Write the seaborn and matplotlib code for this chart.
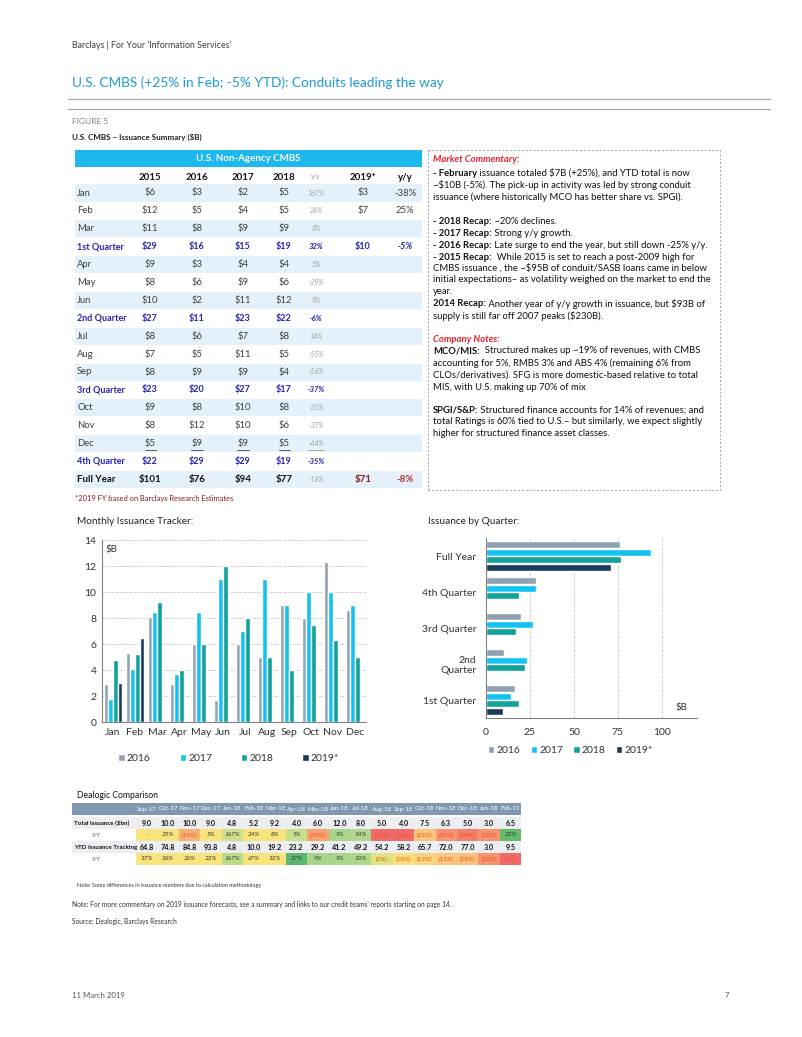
import numpy as np
import pandas as pd
import seaborn as sns
import matplotlib.pyplot as plt
from matplotlib.patches import Rectangle
from matplotlib.lines import Line2D

# ---- data ----
months = ['Jan', 'Feb', 'Mar', 'Apr', 'May', 'Jun', 'Jul', 'Aug', 'Sep', 'Oct', 'Nov', 'Dec']
years = ['2016', '2017', '2018', '2019*']
m2016 = [2.9, 5.3, 8.1, 2.9, 6.0, 1.7, 6.0, 5.0, 9.0, 8.0, 12.3, 8.6]
m2017 = [1.8, 4.1, 8.5, 3.7, 8.5, 11.0, 7.0, 11.0, 9.0, 10.0, 10.0, 9.0]
m2018 = [4.8, 5.2, 9.2, 4.0, 6.0, 12.0, 8.0, 5.0, 4.0, 7.5, 6.3, 5.0]
m2019 = [3.0, 6.5] + [np.nan] * 10

quarters = ['Full Year', '4th Quarter', '3rd Quarter', '2nd\nQuarter', '1st Quarter']
q2016 = [76, 28.5, 20, 10.2, 16.3]
q2017 = [94, 28.5, 27, 23.5, 14.3]
q2018 = [77, 18.8, 17, 22, 19]
q2019 = [71, np.nan, np.nan, np.nan, 9.5]

# summary table
row_labels = ['Jan', 'Feb', 'Mar', '1st Quarter', 'Apr', 'May', 'Jun', '2nd Quarter',
              'Jul', 'Aug', 'Sep', '3rd Quarter', 'Oct', 'Nov', 'Dec', '4th Quarter', 'Full Year']
t2015 = [6, 12, 11, 29, 9, 8, 10, 27, 8, 7, 8, 23, 9, 8, 5, 22, 101]
t2016 = [3, 5, 8, 16, 3, 6, 2, 11, 6, 5, 9, 20, 8, 12, 9, 29, 76]
t2017 = [2, 4, 9, 15, 4, 9, 11, 23, 7, 11, 9, 27, 10, 10, 9, 29, 94]
t2018 = [5, 5, 9, 19, 4, 6, 12, 22, 8, 5, 4, 17, 8, 6, 5, 19, 77]
t_yy18 = [167, 24, 8, 32, 5, -29, 9, -6, 14, -55, -56, -37, -25, -37, -44, -35, -18]
t2019 = {'Jan': 3, 'Feb': 7, '1st Quarter': 10, 'Full Year': 71}
t_yy19 = {'Jan': -38, 'Feb': 25, '1st Quarter': -5, 'Full Year': -8}

# dealogic comparison
deal_months = ['Sep-17', 'Oct-17', 'Nov-17', 'Dec-17', 'Jan-18', 'Feb-18', 'Mar-18', 'Apr-18', 'May-18',
               'Jun-18', 'Jul-18', 'Aug-18', 'Sep-18', 'Oct-18', 'Nov-18', 'Dec-18', 'Jan-18', 'Feb-19']
deal_total = [9.0, 10.0, 10.0, 9.0, 4.8, 5.2, 9.2, 4.0, 6.0, 12.0, 8.0, 5.0, 4.0, 7.5, 6.3, 5.0, 3.0, 6.5]
deal_total_yy = [None, 25, -19, 5, 167, 24, 8, 5, -29, 9, 14, -55, -56, -25, -37, -44, -38, 25]
deal_ytd = [64.8, 74.8, 84.8, 93.8, 4.8, 10.0, 19.2, 23.2, 29.2, 41.2, 49.2, 54.2, 58.2, 65.7, 72.0, 77.0, 3.0, 9.5]
deal_ytd_yy = [37, 36, 26, 23, 167, 67, 32, 27, 9, 9, 10, -3, -10, -12, -15, -18, -38, -5]
total_yy_colors = ['#f9e47c', '#f9e47c', '#f9b276', '#f9e47c', '#cde08a', '#f9e47c', '#f9e47c', '#c6df8a',
                   '#f9a070', '#a8d58a', '#b0d88a', '#f26b6b', '#f26b6b', '#fbc47c', '#f7936f', '#f47e6d',
                   '#f7936f', '#63bb6c']
ytd_yy_colors = ['#f9e47c', '#f9e47c', '#f9e47c', '#f9e47c', '#bddc8a', '#f9e47c', '#f9e47c', '#5cb86f',
                 '#a8d58a', '#a8d58a', '#b0d88a', '#dfe380', '#fae07b', '#fad67b', '#fbc77c', '#fbc17c',
                 '#f7936f', '#f06a6a']

palette = {'2016': '#8fa2b4', '2017': '#12c2f0', '2018': '#12a19b', '2019*': '#1a3b5a'}

sns.set_style('white')
plt.rcParams['font.family'] = ['Lato', 'DejaVu Sans']
plt.rcParams['axes.unicode_minus'] = False

W, H = 802, 1037
fig = plt.figure(figsize=(W / 100, H / 100), dpi=100)
fig.patch.set_facecolor('white')
renderer = fig.canvas.get_renderer()


def txt(x, y, s, size=7, color='#333333', weight='normal', style='normal', ha='left', va='center'):
    return fig.text(x / W, 1 - y / H, s, fontsize=size, color=color, fontweight=weight,
                    fontstyle=style, ha=ha, va=va)


def rich(x, y, parts, size=7):
    for s, kw in parts:
        t = txt(x, y, s, size=size, **kw)
        x += t.get_window_extent(renderer).width


def rect(x0, y0, x1, y1, color):
    fig.patches.append(Rectangle((x0 / W, 1 - y1 / H), (x1 - x0) / W, (y1 - y0) / H,
                                 transform=fig.transFigure, facecolor=color, edgecolor='none'))


def hline(x0, x1, y, color='#a0a0a0', lw=0.8, ls='-'):
    fig.lines.append(Line2D([x0 / W, x1 / W], [1 - y / H, 1 - y / H], transform=fig.transFigure,
                            color=color, lw=lw, ls=ls))


def vline(x, y0, y1, color='#a0a0a0', lw=0.8, ls='-'):
    fig.lines.append(Line2D([x / W, x / W], [1 - y0 / H, 1 - y1 / H], transform=fig.transFigure,
                            color=color, lw=lw, ls=ls))


# ---- page header ----
txt(72, 46, "Barclays | For Your 'Information Services'", size=6.4, color='#404040')
txt(72, 83, 'U.S. CMBS (+25% in Feb; -5% YTD): Conduits leading the way', size=9.8, color='#1a9bd7')
hline(68, 770, 99, color='#a8a8a8', lw=0.9)
hline(68, 770, 109, color='#a8a8a8', lw=0.9)
txt(72, 122, 'FIGURE 5', size=6, color='#808080')
txt(72, 137, 'U.S. CMBS – Issuance Summary ($B)', size=5.8, color='#222222', weight='bold')

# ---- summary table ----
rect(75, 150, 422, 167, '#1cb8ee')
txt(248, 158.5, 'U.S. Non-Agency CMBS', size=7, color='white', weight='bold', ha='center')
cols = [150, 197, 243, 284, 316, 363, 405]
hdr = ['2015', '2016', '2017', '2018', 'y/y', '2019*', 'y/y']
for k, (cx, h) in enumerate(zip(cols, hdr)):
    if k == 4:
        txt(cx, 177, h, size=5, color='#a0a0a0', style='italic', ha='center')
    else:
        txt(cx, 177, h, size=7, color='#111111', weight='bold', ha='center')

shaded = {'Jan', 'Mar', 'Apr', 'Jun', 'Jul', 'Sep', 'Oct', 'Dec', 'Full Year'}
for i, lab in enumerate(row_labels):
    y = 193 + i * 17.9
    if lab in shaded:
        rect(75, y - 8.5, 422, y + 8.5, '#e5f1fa')
    if 'Quarter' in lab:
        c, wgt, sz = '#2323b4', 'bold', 6.5
    elif lab == 'Full Year':
        c, wgt, sz = '#111111', 'bold', 7
    else:
        c, wgt, sz = '#404040', 'normal', 6.8
    txt(77, y, lab, size=sz, color=c, weight=wgt)
    for cx, series in zip(cols[:4], [t2015, t2016, t2017, t2018]):
        t = txt(cx, y, f'${series[i]}', size=sz, color=c, weight=wgt, ha='center')
        if lab == 'Dec':
            bb = t.get_window_extent(renderer)
            hline(bb.x0, bb.x1, y + 6, color='#404040', lw=0.6)
    yy = t_yy18[i]
    if 'Quarter' in lab:
        txt(cols[4], y, f'{yy}%', size=5.5, color=c, weight='bold', style='italic', ha='center')
    else:
        t = txt(cols[4], y, f'{yy}%', size=5, color='#a0a0a0', style='italic', ha='center')
        if lab == 'Dec':
            bb = t.get_window_extent(renderer)
            hline(bb.x0, bb.x1, y + 6, color='#a0a0a0', lw=0.6)
    if lab in t2019:
        if lab == 'Full Year':
            txt(cols[5], y, f'${t2019[lab]}', size=7, color='#8b1a1a', weight='bold', ha='center')
            txt(cols[6], y, f'{t_yy19[lab]}%', size=7, color='#c0282d', weight='bold', ha='center')
        elif 'Quarter' in lab:
            txt(cols[5], y, f'${t2019[lab]}', size=sz, color=c, weight='bold', ha='center')
            txt(cols[6], y, f'{t_yy19[lab]}%', size=sz, color=c, weight='bold', style='italic', ha='center')
        else:
            txt(cols[5], y, f'${t2019[lab]}', size=sz, color=c, ha='center')
            txt(cols[6], y, f'{t_yy19[lab]}%', size=sz, color=c, ha='center')
txt(75, 498, '*2019 FY based on Barclays Research Estimates', size=5.4, color='#8b1a1a')

# ---- commentary box ----
dash = (0, (2, 2))
hline(428, 720, 150, color='#a0a0a0', lw=0.7, ls=dash)
hline(428, 720, 490, color='#a0a0a0', lw=0.7, ls=dash)
vline(428, 150, 490, color='#a0a0a0', lw=0.7, ls=dash)
vline(720, 150, 490, color='#a0a0a0', lw=0.7, ls=dash)

B = {'weight': 'bold', 'color': '#111111'}
R = {'color': '#111111'}
red = {'weight': 'bold', 'style': 'italic', 'color': '#e8202a'}
lines = [
    (160, [('Market Commentary:', red)]),
    (173, [('- February', B), (' issuance totaled $7B (+25%), and YTD total is now', R)]),
    (185, [('~$10B (-5%). The pick-up in activity was led by strong conduit', R)]),
    (197, [('issuance (where historically MCO has better share vs. SPGI).', R)]),
    (221, [('- 2018 Recap:', B), (' ~20% declines.', R)]),
    (233, [('- 2017 Recap:', B), (' Strong y/y growth.', R)]),
    (245, [('- 2016 Recap:', B), (' Late surge to end the year, but still down -25% y/y.', R)]),
    (257, [('- 2015 Recap:', B), ('  While 2015 is set to reach a post-2009 high for', R)]),
    (268, [('CMBS issuance , the ~$95B of conduit/SASB loans came in below', R)]),
    (280, [('initial expectations– as volatility weighed on the market to end the', R)]),
    (292, [('year.', R)]),
    (304, [('2014 Recap:', B), (' Another year of y/y growth in issuance, but $93B of', R)]),
    (316, [('supply is still far off 2007 peaks ($230B).', R)]),
    (339, [('Company Notes:', red)]),
    (351, [('MCO/MIS:', B), ('  Structured makes up ~19% of revenues, with CMBS', R)]),
    (363, [('accounting for 5%, RMBS 3% and ABS 4% (remaining 6% from', R)]),
    (375, [('CLOs/derivatives). SFG is more domestic-based relative to total', R)]),
    (387, [('MIS, with U.S. making up 70% of mix', R)]),
    (410, [('SPGI/S&P:', B), (' Structured finance accounts for 14% of revenues; and', R)]),
    (422, [('total Ratings is 60% tied to U.S.– but similarly, we expect slightly', R)]),
    (434, [('higher for structured finance asset classes.', R)]),
]
for y, parts in lines:
    rich(433, y, parts, size=6.8)

# ---- monthly issuance chart ----
txt(77, 521, 'Monthly Issuance Tracker:', size=7.2, color='#222222')
monthly = pd.DataFrame({'month': months * 4,
                        'year': np.repeat(years, 12),
                        'value': m2016 + m2017 + m2018 + m2019})
ax1 = fig.add_axes([102 / W, 1 - 722 / H, 264 / W, 182 / H])
sns.barplot(data=monthly, x='month', y='value', hue='year', palette=palette, width=0.9,
            gap=0.18, ax=ax1, saturation=1)
ax1.set_ylim(0, 14)
ax1.set_yticks(range(0, 15, 2))
ax1.yaxis.grid(True, linestyle='--', color='#c8c8c8', lw=0.6)
ax1.set_axisbelow(True)
ax1.set_xlabel('')
ax1.set_ylabel('')
for s in ['top', 'right']:
    ax1.spines[s].set_visible(False)
for s in ['left', 'bottom']:
    ax1.spines[s].set_color('#808080')
    ax1.spines[s].set_linewidth(0.8)
ax1.tick_params(labelsize=7.5, colors='#333333', length=0, pad=4)
ax1.text(0.015, 0.95, '$B', transform=ax1.transAxes, fontsize=7, color='#333333', va='center')
ax1.legend(loc='center', bbox_to_anchor=(0.48, -0.2), ncol=4, frameon=False, fontsize=7.5,
           handlelength=0.6, handleheight=0.6, handletextpad=0.2, columnspacing=2.8,
           labelcolor='#333333')

# ---- quarterly chart ----
txt(428, 521, 'Issuance by Quarter:', size=7.2, color='#222222')
quarterly = pd.DataFrame({'quarter': quarters * 4,
                          'year': np.repeat(years, 5),
                          'value': q2016 + q2017 + q2018 + q2019})
ax2 = fig.add_axes([486 / W, 1 - 718 / H, 211 / W, 180 / H])
sns.barplot(data=quarterly, y='quarter', x='value', hue='year', palette=palette, orient='h',
            width=0.84, gap=0.06, ax=ax2, saturation=1)
ax2.set_xlim(0, 120)
ax2.set_xticks([0, 25, 50, 75, 100])
ax2.xaxis.grid(True, linestyle='--', color='#c8c8c8', lw=0.6)
ax2.set_axisbelow(True)
ax2.set_xlabel('')
ax2.set_ylabel('')
for s in ['top', 'right']:
    ax2.spines[s].set_visible(False)
for s in ['left', 'bottom']:
    ax2.spines[s].set_color('#808080')
    ax2.spines[s].set_linewidth(0.8)
ax2.tick_params(labelsize=7.5, colors='#333333', length=0, pad=7)
ax2.set_yticks([0.5, 1.5, 2.5, 3.5], minor=True)
ax2.tick_params(axis='y', which='minor', length=4, color='#808080')
ax2.text(0.9, 0.06, '$B', transform=ax2.transAxes, fontsize=7, color='#333333', va='center')
ax2.legend(loc='center', bbox_to_anchor=(0.40, -0.18), ncol=4, frameon=False, fontsize=7.5,
           handlelength=0.6, handleheight=0.6, handletextpad=0.2, columnspacing=1.0,
           labelcolor='#333333')

# ---- dealogic comparison ----
txt(77, 795, 'Dealogic Comparison', size=6.2, color='#111111')
x_left, x_lab, cw = 72, 136, 21.4
x_right = x_lab + cw * 18
rect(x_left, 803, x_right, 815, '#8098b0')
for j, m in enumerate(deal_months):
    txt(x_lab + cw * (j + 0.5), 809, m, size=4.4, color='white', ha='center')

rows = [(823, 'Total Issuance ($bn)', deal_total, None),
        (835, 'Y/Y', deal_total_yy, total_yy_colors),
        (847, 'YTD Issuance Tracking', deal_ytd, None),
        (859, 'Y/Y', deal_ytd_yy, ytd_yy_colors)]
for y, lab, vals, colors in rows:
    if colors is None:
        rect(x_left, y - 6, x_right, y + 6, '#eceef2')
        txt(74, y, lab, size=4.5, color='#111111', weight='bold')
        for j, v in enumerate(vals):
            txt(x_lab + cw * (j + 0.5), y, f'{v:.1f}', size=5.2, color='#111111', weight='bold', ha='center')
    else:
        txt(92, y, lab, size=4, color='#555555', style='italic')
        for j, (v, c) in enumerate(zip(vals, colors)):
            rect(x_lab + cw * j, y - 6, x_lab + cw * (j + 1), y + 6, c)
            if v is None:
                s, tc = '-', '#333333'
            elif v < 0:
                s, tc = f'({abs(v)}%)', '#e0501e'
            else:
                s, tc = f'{v}%', '#333333'
            txt(x_lab + cw * (j + 0.5), y, s, size=4.6, color=tc, style='italic', ha='center')

# ---- footer ----
txt(77, 886, 'Note: Some differences in issuance numbers due to calculation methodology', size=4, color='#333333')
txt(72, 904, "Note: For more commentary on 2019 issuance forecasts, see a summary and links to our credit teams' reports starting on page 14.",
    size=4.8, color='#333333')
txt(72, 921, 'Source: Dealogic, Barclays Research', size=4.8, color='#333333')
txt(72, 996, '11 March 2019', size=5.6, color='#555555')
txt(729, 996, '7', size=5.6, color='#555555', ha='right')

fig.savefig('out.png', dpi=100)
